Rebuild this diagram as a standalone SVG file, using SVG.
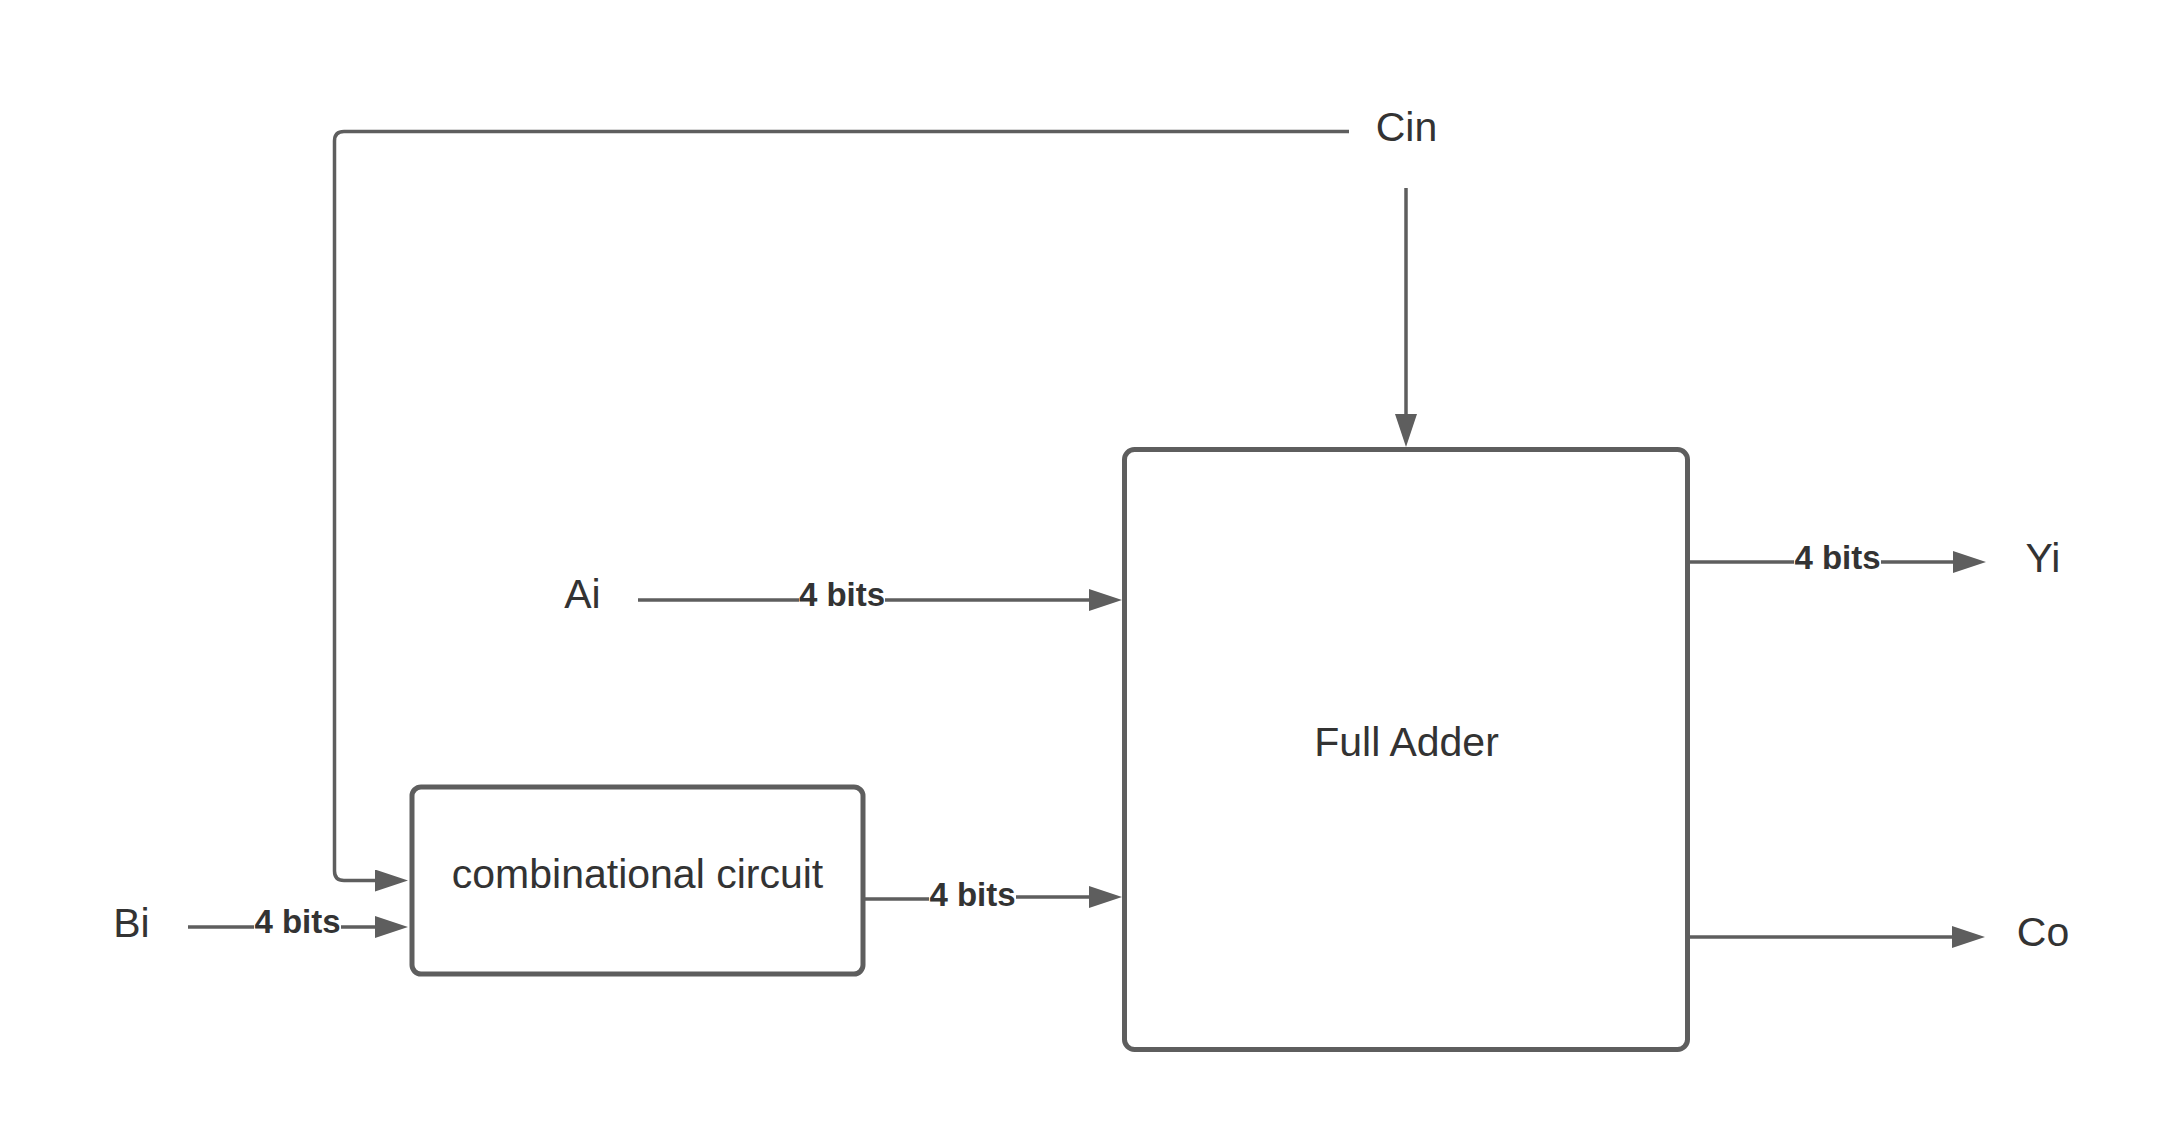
<svg xmlns="http://www.w3.org/2000/svg" width="2175" height="1125" viewBox="0 0 2175 1125">
  <defs>
    <marker id="arrow" markerUnits="userSpaceOnUse" markerWidth="33" markerHeight="22" refX="0" refY="11" orient="auto">
      <path d="M0,0 L33,11 L0,22 Z" fill="#5E5E5E"/>
    </marker>
  </defs>
  <style>
    .box { fill: #FFFFFF; stroke: #5E5E5E; stroke-width: 5; }
    .wire { fill: none; stroke: #5E5E5E; stroke-width: 3.5; }
    .arr { marker-end: url(#arrow); }
    .txt { font-family: "Liberation Sans", Arial, sans-serif; font-size: 41px; fill: #333333; text-anchor: middle; }
    .lbl { font-family: "Liberation Sans", Arial, sans-serif; font-size: 33px; font-weight: bold; fill: #333333; text-anchor: middle; }
    .lblbg { fill: #FFFFFF; }
  </style>
  <rect x="0" y="0" width="2175" height="1125" fill="#FFFFFF"/>

  <g id="connectors">
    <path class="wire arr" d="M1349,131.5 H344 Q334.5,131.5 334.5,141 V871 Q334.5,880.5 344,880.5 H375"/>
    <path class="wire arr" d="M1406,188 V414"/>
    <path class="wire arr" d="M638,600 H1089"/>
    <path class="wire arr" d="M188,927 H375"/>
    <path class="wire arr" d="M865,899 H940 L1005,897 H1089"/>
    <path class="wire arr" d="M1689,562 H1953"/>
    <path class="wire arr" d="M1689,937 H1952"/>
    <g id="connector-labels">
      <rect class="lblbg" x="799" y="582" width="86" height="28"/>
      <text class="lbl" x="842" y="606">4 bits</text>
      <rect class="lblbg" x="254" y="909" width="87" height="28"/>
      <text class="lbl" x="297.5" y="933">4 bits</text>
      <rect class="lblbg" x="929" y="882" width="87" height="28"/>
      <text class="lbl" x="972.5" y="906">4 bits</text>
      <rect class="lblbg" x="1794" y="545" width="87" height="28"/>
      <text class="lbl" x="1837.5" y="569">4 bits</text>
    </g>
  </g>

  <g id="full-adder">
    <rect class="box" x="1124.5" y="449.5" width="563" height="600" rx="10" ry="10"/>
    <text class="txt" x="1406.5" y="756">Full Adder</text>
  </g>

  <g id="combinational-circuit">
    <rect class="box" x="412" y="787" width="451" height="187" rx="9" ry="9"/>
    <text class="txt" x="637.5" y="888">combinational circuit</text>
  </g>

  <g id="cin">
    <text class="txt" x="1406.5" y="141">Cin</text>
  </g>
  <g id="ai">
    <text class="txt" x="582.5" y="608">Ai</text>
  </g>
  <g id="bi">
    <text class="txt" x="131.5" y="937">Bi</text>
  </g>
  <g id="yi">
    <text class="txt" x="2043" y="572">Yi</text>
  </g>
  <g id="co">
    <text class="txt" x="2043" y="946">Co</text>
  </g>
</svg>
